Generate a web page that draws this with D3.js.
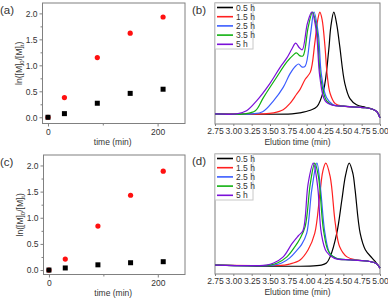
<!DOCTYPE html>
<html lang="en">
<head>
<meta charset="UTF-8">
<title>Kinetics and GPC traces</title>
<script src="https://d3js.org/d3.v7.min.js"></script>
<style>
  body { margin: 0; background: #fff; }
  text { font-family: "Liberation Sans", Arial, sans-serif; fill: #333; }
</style>
</head>
<body>
<div id="chart"></div>
<script>
// ---- data ----
const times = [0, 30, 90, 150, 210];          // min
const aRed   = [0, 0.38, 1.15, 1.62, 1.93];
const aBlack = [0, 0.07, 0.27, 0.46, 0.54];
const cRed   = [0, 0.21, 0.84, 1.43, 1.89];
const cBlack = [0, 0.04, 0.10, 0.14, 0.16];

const legendNames = ["0.5 h", "1.5 h", "2.5 h", "3.5 h", "5 h"];
const lineColors  = ["#000000", "#ff2020", "#3a5cff", "#10b010", "#7a10d8"];
const elutionTicks = [2.75, 3.00, 3.25, 3.50, 3.75, 4.00, 4.25, 4.50, 4.75, 5.00];

// GPC traces, [elution time, normalised intensity]
const b05 = [[2.75,0],[3.80,0],[3.91,0.01],[4.05,0.035],[4.14,0.07],[4.23,0.23],[4.30,0.62],[4.33,0.86],[4.37,1.0],[4.41,0.88],[4.45,0.67],[4.52,0.30],[4.59,0.15],[4.68,0.09],[4.80,0.065],[4.90,0.045],[4.96,0.02],[5.0,-0.04]];
const b15 = [[2.75,0],[3.40,0],[3.55,0.01],[3.68,0.04],[3.77,0.10],[3.86,0.19],[3.91,0.24],[3.98,0.34],[4.05,0.41],[4.11,0.69],[4.15,0.92],[4.18,1.0],[4.21,0.93],[4.25,0.66],[4.28,0.38],[4.32,0.2],[4.39,0.1],[4.50,0.075],[4.68,0.065],[4.80,0.06],[4.90,0.045],[4.96,0.02],[5.0,-0.04]];
const b25 = [[2.75,0],[3.25,0],[3.40,0.02],[3.55,0.13],[3.68,0.26],[3.77,0.39],[3.85,0.47],[3.89,0.49],[3.94,0.46],[3.98,0.47],[4.05,0.77],[4.10,1.0],[4.16,0.78],[4.20,0.39],[4.27,0.16],[4.36,0.09],[4.50,0.075],[4.68,0.065],[4.80,0.06],[4.90,0.045],[4.96,0.02],[5.0,-0.04]];
const b35 = [[2.75,0],[3.15,0],[3.30,0.03],[3.41,0.16],[3.59,0.36],[3.73,0.51],[3.82,0.58],[3.86,0.60],[3.91,0.57],[3.95,0.57],[4.02,0.85],[4.08,1.0],[4.14,0.82],[4.19,0.36],[4.27,0.13],[4.36,0.085],[4.50,0.075],[4.68,0.065],[4.80,0.06],[4.90,0.045],[4.96,0.02],[5.0,-0.04]];
const b50 = [[2.75,0],[3.05,0],[3.18,0.03],[3.32,0.13],[3.50,0.30],[3.64,0.46],[3.73,0.55],[3.80,0.64],[3.85,0.695],[3.90,0.65],[3.94,0.63],[4.01,0.89],[4.07,1.0],[4.13,0.82],[4.18,0.36],[4.25,0.13],[4.35,0.085],[4.50,0.075],[4.68,0.065],[4.80,0.06],[4.90,0.045],[4.96,0.02],[5.0,-0.04]];

const d05 = [[2.75,0],[4.20,0],[4.27,0.02],[4.32,0.08],[4.41,0.31],[4.48,0.64],[4.53,0.88],[4.58,1.0],[4.63,0.90],[4.66,0.74],[4.73,0.31],[4.80,0.15],[4.89,0.07],[4.95,0.02],[5.0,-0.03]];
const d15 = [[2.75,0],[3.70,0],[3.77,0.01],[3.91,0.05],[4.02,0.15],[4.11,0.31],[4.18,0.70],[4.22,0.92],[4.26,1.0],[4.32,0.87],[4.39,0.41],[4.45,0.18],[4.55,0.08],[4.68,0.05],[4.86,0.035],[4.95,0.015],[5.0,-0.03]];
const d25 = [[2.75,0],[3.55,0],[3.66,0.02],[3.77,0.07],[3.86,0.14],[3.93,0.20],[4.00,0.31],[4.07,0.74],[4.14,1.0],[4.19,0.74],[4.25,0.31],[4.32,0.11],[4.41,0.065],[4.60,0.05],[4.86,0.035],[4.95,0.015],[5.0,-0.03]];
const d35 = [[2.75,0],[3.50,0],[3.60,0.02],[3.73,0.08],[3.84,0.18],[3.91,0.26],[3.98,0.38],[4.05,0.80],[4.11,1.0],[4.16,0.87],[4.23,0.34],[4.30,0.13],[4.40,0.065],[4.60,0.05],[4.86,0.035],[4.95,0.015],[5.0,-0.03]];
const d50 = [[2.75,0],[3.45,0],[3.55,0.02],[3.68,0.08],[3.80,0.21],[3.89,0.29],[3.95,0.34],[4.02,0.80],[4.09,1.0],[4.15,0.77],[4.20,0.31],[4.27,0.13],[4.38,0.065],[4.60,0.05],[4.86,0.035],[4.95,0.015],[5.0,-0.03]];

const W = 388, H = 301;
const svg = d3.select("#chart").append("svg")
    .attr("width", W).attr("height", H);

const axisGrey = "#808080";

function styleAxis(g) {
    g.selectAll("path,line").attr("stroke", axisGrey);
    g.selectAll("text").attr("font-size", "8.5px").attr("fill", "#333");
}

// frame
function frame(l, r, t, b) {
    svg.append("rect")
        .attr("x", l).attr("y", t).attr("width", r - l).attr("height", b - t)
        .attr("fill", "none").attr("stroke", axisGrey).attr("stroke-width", 1);
}

// ---- kinetics panels (a), (c) ----
function kinetics(box, yDom, red, black, label) {
    const x = d3.scaleLinear().domain([-10, 250]).range([box.l, box.r]);
    const y = d3.scaleLinear().domain(yDom).range([box.b, box.t]);

    // minor ticks
    svg.append("g").attr("transform", `translate(0,${box.b})`)
        .call(d3.axisBottom(x).tickValues([100]).tickSize(2).tickFormat("").tickSizeOuter(0))
        .call(styleAxis).select(".domain").remove();
    svg.append("g").attr("transform", `translate(${box.l},0)`)
        .call(d3.axisLeft(y).tickValues([0.25, 0.75, 1.25, 1.75]).tickSize(2).tickFormat("").tickSizeOuter(0))
        .call(styleAxis).select(".domain").remove();

    svg.append("g").attr("transform", `translate(0,${box.b})`)
        .call(d3.axisBottom(x).tickValues([0, 200]).tickSize(3).tickPadding(2).tickSizeOuter(0))
        .call(styleAxis).select(".domain").remove();
    svg.append("g").attr("transform", `translate(${box.l},0)`)
        .call(d3.axisLeft(y).tickValues([0, 0.5, 1.0, 1.5, 2.0]).tickFormat(d3.format(".1f")).tickSize(3).tickPadding(2).tickSizeOuter(0))
        .call(styleAxis).select(".domain").remove();

    frame(box.l, box.r, box.t, box.b);

    svg.append("g").selectAll("circle").data(times).enter().append("circle")
        .attr("cx", d => x(d))
        .attr("cy", (d, i) => y(red[i]))
        .attr("r", 2.6)
        .attr("fill", "#ff1010");
    svg.append("g").selectAll("rect").data(times).enter().append("rect")
        .attr("x", d => x(d) - 2.5)
        .attr("y", (d, i) => y(black[i]) - 2.5)
        .attr("width", 5).attr("height", 5)
        .attr("fill", "#000");

    svg.append("text")
        .attr("x", (box.l + box.r) / 2 - 1).attr("y", box.b + 21)
        .attr("text-anchor", "middle").attr("font-size", "8.5px")
        .text("time (min)");

    const yl = svg.append("text")
        .attr("transform", `translate(${box.l - 21},${(box.t + box.b) / 2}) rotate(-90)`)
        .attr("text-anchor", "middle").attr("font-size", "8.5px");
    yl.append("tspan").text("ln([M]");
    yl.append("tspan").attr("font-size", "6px").attr("dy", 2).text("0");
    yl.append("tspan").attr("dy", -2).text("/[M]");
    yl.append("tspan").attr("font-size", "6px").attr("dy", 2).text("t");
    yl.append("tspan").attr("dy", -2).text(")");

    svg.append("text").attr("x", 0).attr("y", box.t + 11)
        .attr("font-size", "11.5px").text(label);
}

// ---- GPC panels (b), (d) ----
function gpc(box, yDom, traces, label) {
    const x = d3.scaleLinear().domain([2.75, 5.0]).range([box.l, box.r]);
    const y = d3.scaleLinear().domain(yDom).range([box.b, box.t]);

    svg.append("g").attr("transform", `translate(0,${box.b})`)
        .call(d3.axisBottom(x).tickValues(elutionTicks).tickFormat(d3.format(".2f")).tickSize(2).tickPadding(2).tickSizeOuter(0))
        .call(styleAxis).select(".domain").remove();

    frame(box.l, box.r, box.t, box.b);

    const line = d3.line()
        .x(d => x(d[0])).y(d => y(d[1]))
        .curve(d3.curveCatmullRom.alpha(0.5));

    svg.append("g").selectAll("path").data(traces).enter().append("path")
        .attr("d", line)
        .attr("fill", "none")
        .attr("stroke", (d, i) => lineColors[i])
        .attr("stroke-width", 1.2);

    svg.append("text")
        .attr("x", (box.l + box.r) / 2).attr("y", box.b + 21)
        .attr("text-anchor", "middle").attr("font-size", "8.5px")
        .text("Elution time (min)");

    // legend
    const lg = svg.append("g").attr("transform", `translate(${box.l},${box.t})`);
    lg.append("rect").attr("x", 0).attr("y", 0).attr("width", 38).attr("height", 46)
        .attr("fill", "#fff").attr("stroke", "#c8c8c8");
    legendNames.forEach((n, i) => {
        const yy = 4.5 + i * 9.2;
        lg.append("line").attr("x1", 2).attr("x2", 18).attr("y1", yy).attr("y2", yy)
            .attr("stroke", lineColors[i]).attr("stroke-width", 1.6);
        lg.append("text").attr("x", 21).attr("y", yy + 3)
            .attr("font-size", "8.5px").text(n);
    });

    svg.append("text").attr("x", box.l - 23).attr("y", box.t + 11)
        .attr("font-size", "11.5px").text(label);
}

kinetics({l: 42.5, r: 185, t: 3, b: 123.5}, [-0.12, 2.2], aRed, aBlack, "(a)");
kinetics({l: 43.5, r: 185, t: 155, b: 274.5}, [-0.085, 2.2], cRed, cBlack, "(c)");
gpc({l: 215, r: 380, t: 3, b: 124}, [-0.1, 1.09], [b05, b15, b25, b35, b50], "(b)");
gpc({l: 215, r: 380, t: 154, b: 274}, [-0.088, 1.09], [d05, d15, d25, d35, d50], "(d)");
</script>
</body>
</html>
